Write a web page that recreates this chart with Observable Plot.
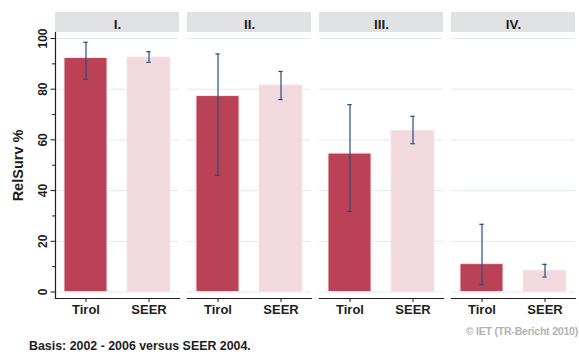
<!DOCTYPE html>
<html>
<head>
<meta charset="utf-8">
<script src="https://cdn.jsdelivr.net/npm/d3@7"></script>
<script src="https://cdn.jsdelivr.net/npm/@observablehq/plot@0.6"></script>
<style>
  html, body { margin: 0; padding: 0; background: #fff; }
  #wrap { position: relative; width: 579px; height: 358px; font-family: "Liberation Sans", Arial, sans-serif; font-weight: bold; }
  #copy { position: absolute; right: 1px; top: 325px; font-size: 10.5px; color: #b3b3b3; letter-spacing: -0.2px; }
  #basis { position: absolute; left: 29px; top: 339px; font-size: 12.4px; color: #1e1e1e; letter-spacing: 0px; }
</style>
</head>
<body>
<div id="wrap">
  <div id="chart"></div>
  <div id="copy">© IET (TR-Bericht 2010)</div>
  <div id="basis">Basis: 2002 - 2006 versus SEER 2004.</div>
</div>
<script>
const stages = ["I.", "II.", "III.", "IV."];
const groups = ["Tirol", "SEER"];
const tirolValues = [92.3, 77.3, 54.6, 11.0];
const tirolLow    = [83.9, 46.0, 31.8, 2.9];
const tirolHigh   = [98.5, 93.9, 73.9, 26.7];
const seerValues  = [92.5, 81.5, 63.6, 8.4];
const seerLow     = [90.6, 75.9, 58.5, 5.9];
const seerHigh    = [94.8, 87.0, 69.3, 10.9];
const yTicks = [0, 20, 40, 60, 80, 100];
const yMinorTicks = [10, 30, 50, 70, 90];

const data = [];
stages.forEach((s, i) => {
  data.push({stage: s, group: "Tirol", value: tirolValues[i], low: tirolLow[i], high: tirolHigh[i]});
  data.push({stage: s, group: "SEER", value: seerValues[i], low: seerLow[i], high: seerHigh[i]});
});

const errColor = "#22507d";
const ink = "#1e1e1e";

const plot = Plot.plot({
  width: 579,
  height: 322,
  marginLeft: 53,
  marginRight: 2,
  marginTop: 32,
  marginBottom: 24,
  style: {fontFamily: "'Liberation Sans', Arial, sans-serif", fontWeight: "bold", color: ink, background: "#fff"},
  fx: {domain: stages, paddingInner: 0.06, paddingOuter: 0},
  x: {domain: groups, paddingInner: 0.31, paddingOuter: 0.124},
  y: {domain: [0, 100], insetTop: 6, insetBottom: 6.5},
  color: {domain: groups, range: ["#bb4256", "#f2d9de"]},
  marks: [
    Plot.gridY(yTicks, {stroke: "#e3eaea", strokeOpacity: 1, strokeWidth: 1}),
    Plot.barY(data, {fx: "stage", x: "group", y: "value", fill: "group", stroke: "#f7e6e9", strokeWidth: 1}),
    Plot.ruleX(data, {fx: "stage", x: "group", y1: "low", y2: "high", stroke: errColor, strokeWidth: 1.2}),
    Plot.tickY(data, {fx: "stage", x: "group", y: "low", insetLeft: 19.3, insetRight: 19.3, stroke: errColor, strokeWidth: 1.2}),
    Plot.tickY(data, {fx: "stage", x: "group", y: "high", insetLeft: 19.3, insetRight: 19.3, stroke: errColor, strokeWidth: 1.2}),
    Plot.frame({anchor: "bottom", stroke: ink, strokeWidth: 1.2}),
    Plot.frame({anchor: "left", stroke: ink, strokeWidth: 1.2, facetAnchor: "left"}),
    Plot.axisY(yMinorTicks, {tickSize: 3, text: null, label: null, stroke: ink}),
    Plot.axisY(yTicks, {tickSize: 4.5, tickRotate: -90, tickPadding: 4.5, fontSize: 12, stroke: ink,
      label: "RelSurv %", labelAnchor: "center", labelArrow: "none", labelOffset: 43}),
    Plot.axisX({tickSize: 4, tickPadding: 2, fontSize: 13, label: null, stroke: ink}),
    Plot.axisFx({anchor: "top", tickSize: 0, tickPadding: 4, fontSize: 13.5, label: null})
  ]
});

document.getElementById("chart").appendChild(plot);

// strip headers behind the facet labels
const fx = plot.scale("fx");
const svg = d3.select(plot.tagName.toLowerCase() === "svg" ? plot : plot.querySelector("svg"));
const g = svg.insert("g", ":first-child");
stages.forEach(s => {
  g.append("rect")
    .attr("x", fx.apply(s))
    .attr("y", 12)
    .attr("width", fx.bandwidth)
    .attr("height", 20)
    .attr("fill", "#e0e1e3");
});
// y label font size
svg.selectAll("g[aria-label='y-axis label'] text").attr("font-size", 14.5);
</script>
</body>
</html>
